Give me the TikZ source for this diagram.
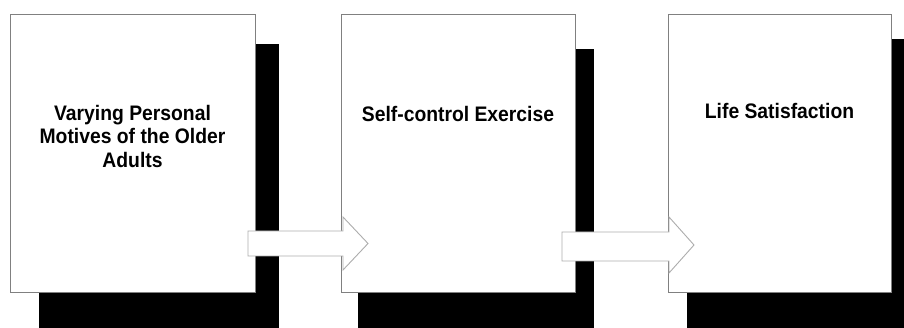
\documentclass[tikz,border=0pt]{standalone}
\usepackage{fontspec}
\newfontfamily\boxfont[FakeStretch=0.92]{Liberation Sans}
\begin{document}
\begin{tikzpicture}[x=1pt,y=-1pt,
  box/.style={draw=black!50,line width=0.9pt,fill=white,inner sep=0pt,minimum width=#1,minimum height=278pt},
  shadowbox/.style={fill=black},
  arr/.style={draw=black!32,line width=0.9pt,fill=white,line join=miter},
  lbl/.style={font=\boxfont\bfseries\fontsize{21}{23.5}\selectfont,align=center,anchor=north,inner sep=0pt,text=black}]
\useasboundingbox (0,0) rectangle (904,328);
\clip (0,0) rectangle (904,328);
% shadows
\fill[shadowbox] (39,44) rectangle (279,340);
\fill[shadowbox] (358,49) rectangle (594,340);
\fill[shadowbox] (687,39) rectangle (920,340);
% boxes
\node[box=245pt] (b1) at (132.5,153) {};
\node[box=234pt] (b2) at (458,153) {};
\node[box=223pt] (b3) at (779.5,153) {};
% labels
\node[lbl] (t1) at (b1.center |- 0,105) {Varying Personal\\Motives of the Older\\Adults};
\node[lbl] (t2) at (b2.center |- 0,106) {Self-control Exercise};
\node[lbl] (t3) at (b3.center |- 0,103) {Life Satisfaction};
% arrows
\draw[arr] (248,231) -- (343,231) -- (343,217) -- (368,243.5) -- (343,270) -- (343,256) -- (248,256) -- cycle;
\draw[arr] (562,232) -- (669,232) -- (669,217) -- (694,245) -- (669,273) -- (669,261) -- (562,261) -- cycle;
\end{tikzpicture}
\end{document}
